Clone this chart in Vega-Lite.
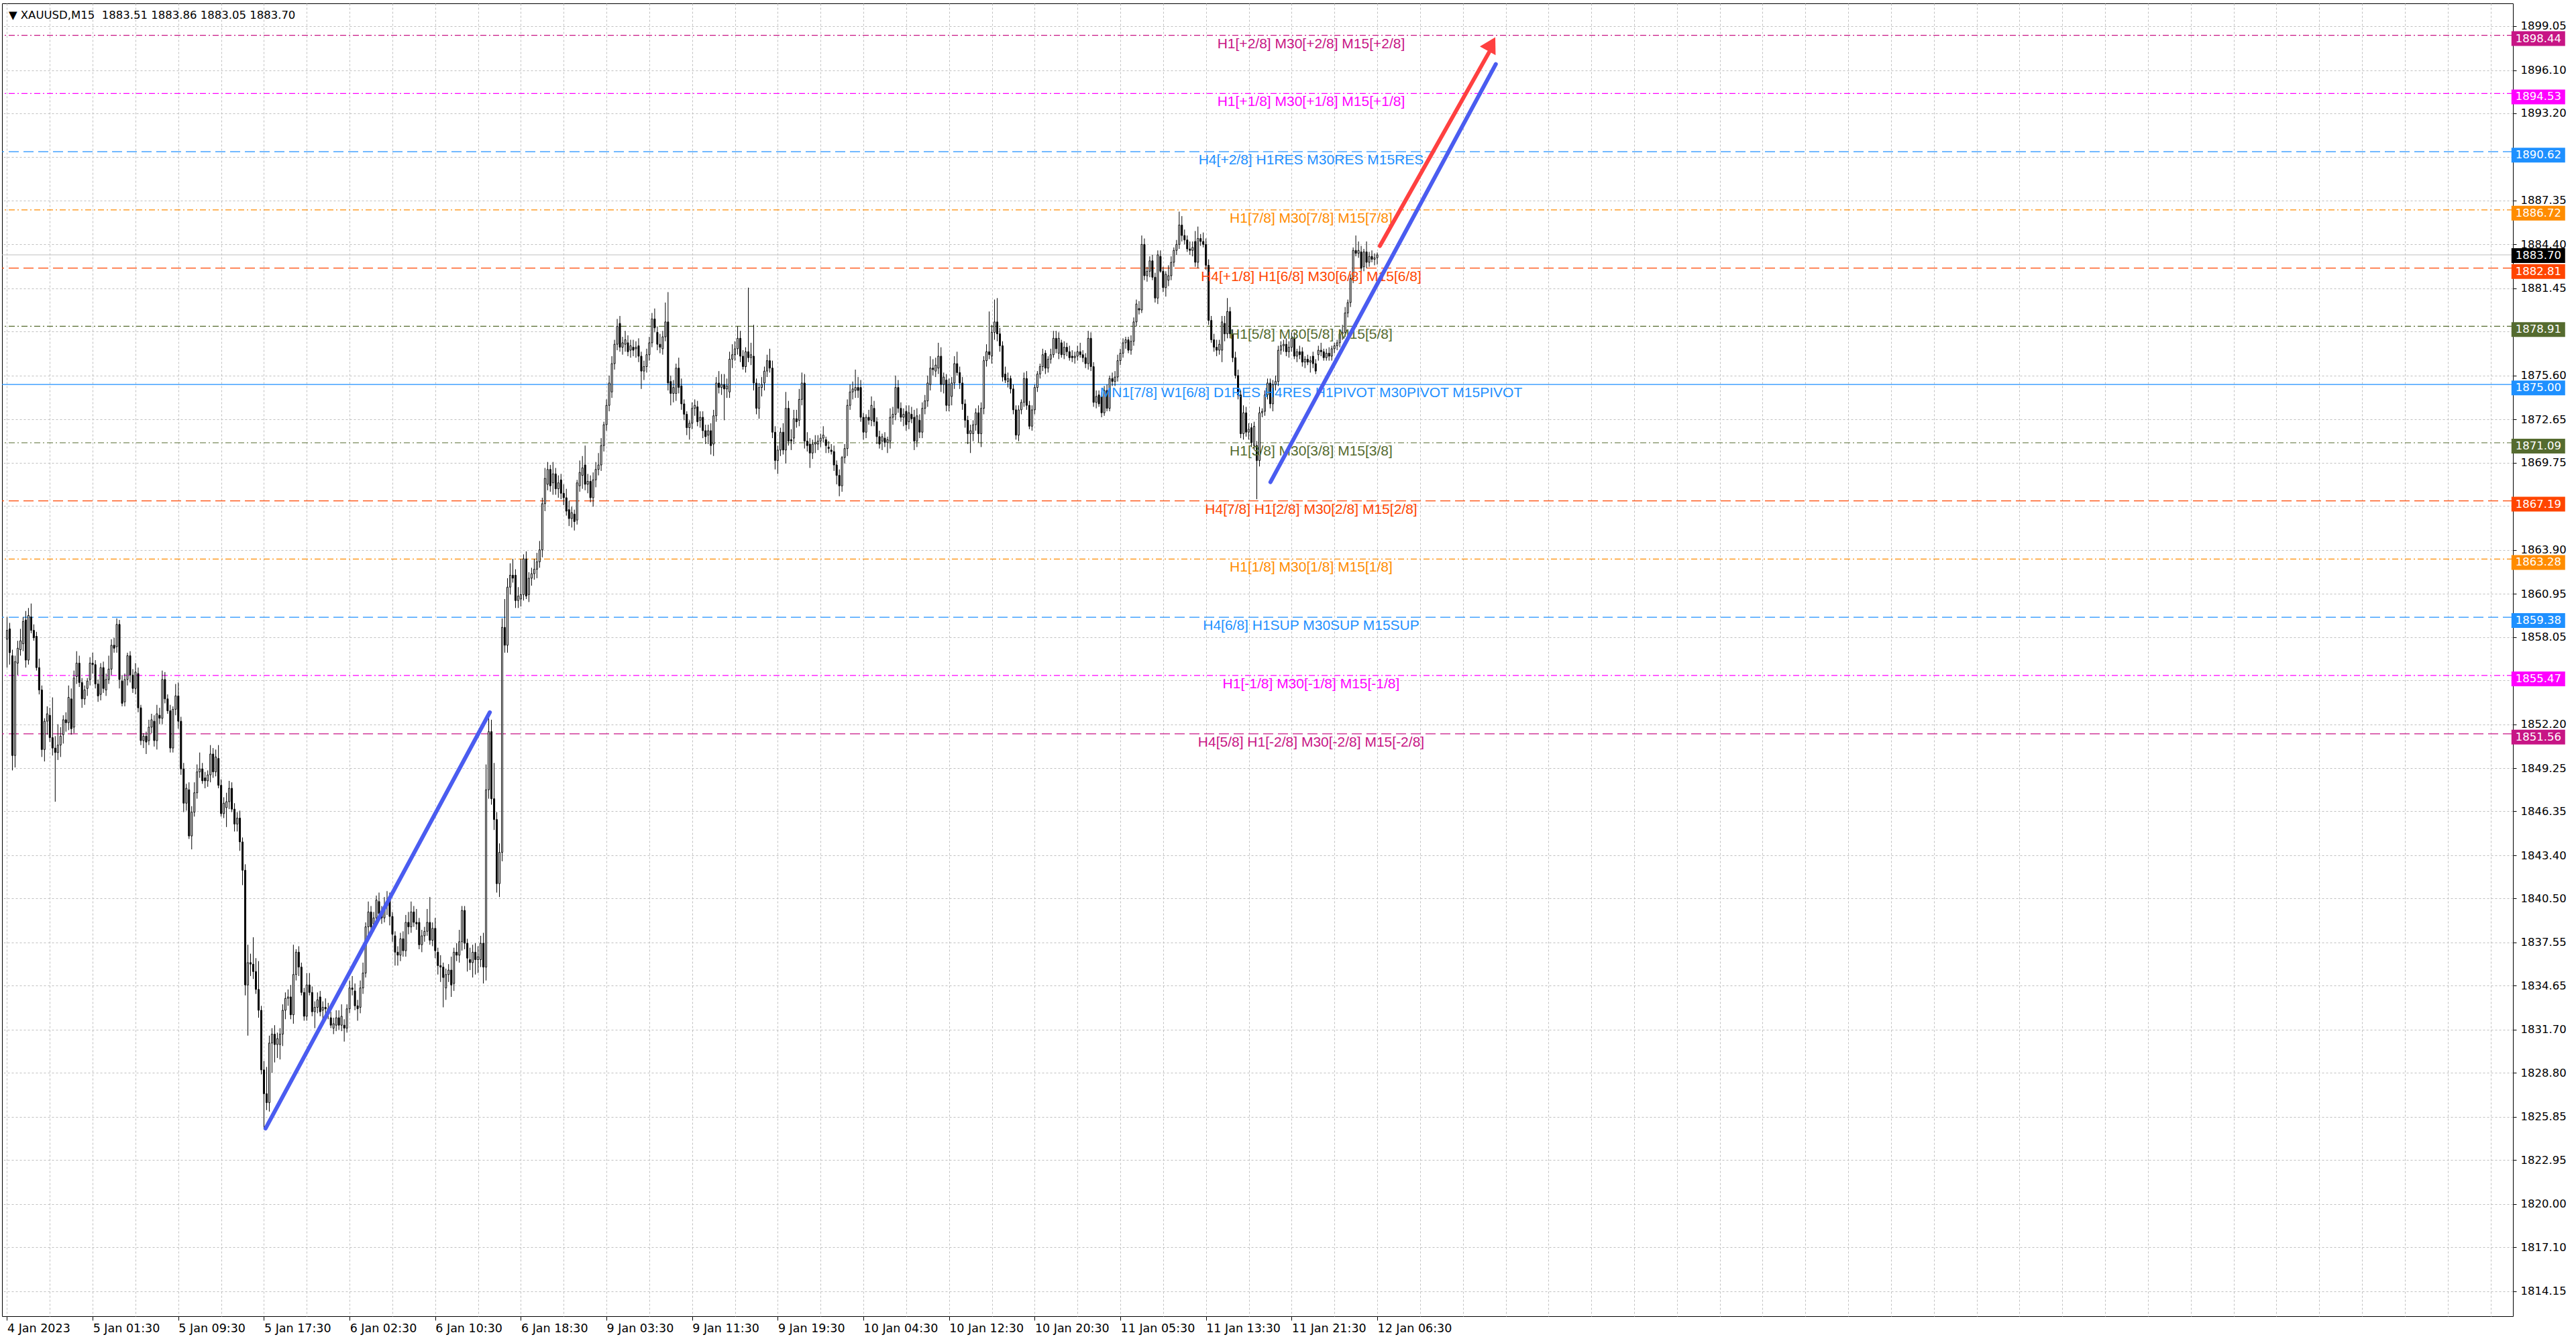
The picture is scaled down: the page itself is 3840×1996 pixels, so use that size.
{
"$schema":"https://vega.github.io/schema/vega-lite/v6.json",
"width":3743,"height":1957,
"autosize":{"type":"none"},
"padding":{"left":3,"top":5,"right":94,"bottom":34},
"background":"white",
"config":{"view":{"stroke":"black","strokeWidth":1}},
"datasets":{
"candles":[
{"i":0,"o":1857.9,"h":1859.4,"l":1856.0,"c":1858.5},{"i":1,"o":1858.6,"h":1859.0,"l":1856.2,"c":1857.0},{"i":2,"o":1856.8,"h":1857.2,"l":1849.1,"c":1850.1},{"i":3,"o":1850.1,"h":1856.8,"l":1849.3,"c":1856.4},{"i":4,"o":1856.3,"h":1857.8,"l":1855.5,"c":1857.3},{"i":5,"o":1857.2,"h":1858.6,"l":1856.8,"c":1857.8},{"i":6,"o":1857.6,"h":1859.4,"l":1857.1,"c":1859.1},{"i":7,"o":1859.2,"h":1859.8,"l":1856.0,"c":1856.5},{"i":8,"o":1856.5,"h":1860.0,"l":1856.2,"c":1859.5},{"i":9,"o":1859.4,"h":1860.3,"l":1858.3,"c":1858.5},
{"i":10,"o":1858.5,"h":1858.9,"l":1857.8,"c":1858.0},{"i":11,"o":1858.1,"h":1858.4,"l":1855.8,"c":1856.0},{"i":12,"o":1856.0,"h":1856.6,"l":1854.2,"c":1854.5},{"i":13,"o":1854.5,"h":1854.8,"l":1850.0,"c":1850.5},{"i":14,"o":1850.5,"h":1852.6,"l":1849.7,"c":1852.4},{"i":15,"o":1852.4,"h":1853.4,"l":1851.5,"c":1852.9},{"i":16,"o":1852.8,"h":1853.3,"l":1851.0,"c":1851.3},{"i":17,"o":1851.3,"h":1854.0,"l":1850.1,"c":1850.6},{"i":18,"o":1850.6,"h":1851.4,"l":1847.0,"c":1850.3},{"i":19,"o":1850.3,"h":1852.2,"l":1849.8,"c":1850.8},
{"i":20,"o":1850.8,"h":1852.0,"l":1850.0,"c":1851.4},{"i":21,"o":1851.5,"h":1852.8,"l":1850.9,"c":1852.5},{"i":22,"o":1852.5,"h":1853.0,"l":1851.7,"c":1852.3},{"i":23,"o":1852.3,"h":1854.8,"l":1851.8,"c":1854.0},{"i":24,"o":1853.9,"h":1854.6,"l":1851.5,"c":1851.9},{"i":25,"o":1852.0,"h":1855.8,"l":1851.6,"c":1855.3},{"i":26,"o":1855.4,"h":1857.1,"l":1854.9,"c":1856.3},{"i":27,"o":1856.3,"h":1856.8,"l":1854.7,"c":1855.0},{"i":28,"o":1855.0,"h":1855.3,"l":1853.3,"c":1853.9},{"i":29,"o":1853.9,"h":1854.8,"l":1853.5,"c":1854.5},
{"i":30,"o":1854.6,"h":1855.3,"l":1854.1,"c":1855.1},{"i":31,"o":1855.2,"h":1856.7,"l":1854.8,"c":1856.3},{"i":32,"o":1856.3,"h":1857.0,"l":1855.6,"c":1856.2},{"i":33,"o":1856.2,"h":1856.5,"l":1854.6,"c":1854.9},{"i":34,"o":1854.9,"h":1855.2,"l":1853.7,"c":1854.1},{"i":35,"o":1854.2,"h":1856.3,"l":1853.8,"c":1856.0},{"i":36,"o":1856.0,"h":1856.4,"l":1854.3,"c":1854.6},{"i":37,"o":1854.5,"h":1855.6,"l":1854.1,"c":1855.2},{"i":38,"o":1855.2,"h":1856.8,"l":1854.9,"c":1855.9},{"i":39,"o":1855.9,"h":1857.9,"l":1855.5,"c":1857.5},
{"i":40,"o":1857.5,"h":1858.0,"l":1857.0,"c":1857.3},{"i":41,"o":1857.4,"h":1859.3,"l":1857.0,"c":1858.9},{"i":42,"o":1858.9,"h":1859.2,"l":1854.6,"c":1855.2},{"i":43,"o":1855.1,"h":1855.5,"l":1853.4,"c":1853.6},{"i":44,"o":1853.7,"h":1855.6,"l":1853.4,"c":1855.2},{"i":45,"o":1855.2,"h":1857.0,"l":1854.8,"c":1856.8},{"i":46,"o":1856.8,"h":1857.1,"l":1855.0,"c":1855.5},{"i":47,"o":1855.5,"h":1855.9,"l":1854.3,"c":1854.6},{"i":48,"o":1854.6,"h":1856.3,"l":1854.2,"c":1855.7},{"i":49,"o":1855.6,"h":1856.0,"l":1853.0,"c":1853.3},
{"i":50,"o":1853.3,"h":1853.5,"l":1850.8,"c":1851.1},{"i":51,"o":1851.1,"h":1851.6,"l":1850.6,"c":1851.4},{"i":52,"o":1851.4,"h":1851.7,"l":1850.2,"c":1851.0},{"i":53,"o":1851.1,"h":1852.5,"l":1850.8,"c":1852.0},{"i":54,"o":1852.0,"h":1852.9,"l":1851.6,"c":1852.5},{"i":55,"o":1852.4,"h":1852.8,"l":1850.7,"c":1851.1},{"i":56,"o":1851.1,"h":1853.5,"l":1850.5,"c":1852.9},{"i":57,"o":1852.8,"h":1853.3,"l":1852.2,"c":1852.6},{"i":58,"o":1852.6,"h":1855.8,"l":1852.2,"c":1855.2},{"i":59,"o":1855.2,"h":1855.7,"l":1853.6,"c":1853.9},
{"i":60,"o":1853.9,"h":1854.2,"l":1852.9,"c":1853.1},{"i":61,"o":1853.1,"h":1853.5,"l":1850.3,"c":1850.6},{"i":62,"o":1850.6,"h":1853.4,"l":1850.3,"c":1853.2},{"i":63,"o":1853.2,"h":1854.9,"l":1852.8,"c":1854.1},{"i":64,"o":1854.1,"h":1855.0,"l":1851.9,"c":1852.4},{"i":65,"o":1852.4,"h":1852.7,"l":1848.8,"c":1849.2},{"i":66,"o":1849.2,"h":1849.6,"l":1846.3,"c":1846.9},{"i":67,"o":1846.9,"h":1848.2,"l":1846.4,"c":1847.9},{"i":68,"o":1847.8,"h":1848.3,"l":1844.5,"c":1844.7},{"i":69,"o":1844.7,"h":1846.7,"l":1843.8,"c":1846.3},
{"i":70,"o":1846.3,"h":1848.3,"l":1846.0,"c":1847.6},{"i":71,"o":1847.6,"h":1849.5,"l":1847.2,"c":1849.0},{"i":72,"o":1849.0,"h":1850.3,"l":1848.6,"c":1849.2},{"i":73,"o":1849.2,"h":1849.6,"l":1848.2,"c":1848.4},{"i":74,"o":1848.6,"h":1849.0,"l":1847.9,"c":1848.4},{"i":75,"o":1848.4,"h":1849.1,"l":1848.0,"c":1848.8},{"i":76,"o":1848.8,"h":1850.8,"l":1848.3,"c":1850.2},{"i":77,"o":1850.2,"h":1850.6,"l":1848.6,"c":1849.0},{"i":78,"o":1849.0,"h":1850.5,"l":1848.7,"c":1850.0},{"i":79,"o":1849.9,"h":1850.8,"l":1847.9,"c":1848.1},
{"i":80,"o":1848.1,"h":1848.5,"l":1846.0,"c":1846.2},{"i":81,"o":1846.2,"h":1847.3,"l":1845.9,"c":1846.9},{"i":82,"o":1846.6,"h":1847.6,"l":1845.3,"c":1847.0},{"i":83,"o":1847.0,"h":1848.4,"l":1846.5,"c":1847.9},{"i":84,"o":1847.9,"h":1848.3,"l":1846.3,"c":1846.5},{"i":85,"o":1846.5,"h":1846.9,"l":1845.0,"c":1845.5},{"i":86,"o":1845.5,"h":1846.3,"l":1845.0,"c":1845.9},{"i":87,"o":1845.9,"h":1846.4,"l":1843.7,"c":1844.3},{"i":88,"o":1844.3,"h":1844.6,"l":1841.4,"c":1842.4},{"i":89,"o":1842.4,"h":1842.8,"l":1834.0,"c":1834.7},
{"i":90,"o":1834.7,"h":1837.4,"l":1831.3,"c":1836.2},{"i":91,"o":1836.2,"h":1836.8,"l":1835.3,"c":1836.1},{"i":92,"o":1836.1,"h":1837.9,"l":1835.1,"c":1835.6},{"i":93,"o":1835.6,"h":1836.5,"l":1834.1,"c":1834.4},{"i":94,"o":1834.4,"h":1836.3,"l":1832.5,"c":1833.0},{"i":95,"o":1833.0,"h":1833.3,"l":1828.7,"c":1829.0},{"i":96,"o":1829.0,"h":1829.6,"l":1825.0,"c":1827.4},{"i":97,"o":1827.4,"h":1829.2,"l":1826.3,"c":1826.8},{"i":98,"o":1826.8,"h":1831.3,"l":1826.2,"c":1830.8},{"i":99,"o":1830.8,"h":1831.8,"l":1828.8,"c":1831.4},
{"i":100,"o":1831.4,"h":1832.0,"l":1829.5,"c":1830.7},{"i":101,"o":1830.7,"h":1831.5,"l":1829.8,"c":1831.1},{"i":102,"o":1830.7,"h":1831.8,"l":1829.7,"c":1831.4},{"i":103,"o":1831.4,"h":1833.4,"l":1830.6,"c":1833.0},{"i":104,"o":1833.0,"h":1834.2,"l":1832.4,"c":1833.8},{"i":105,"o":1833.8,"h":1834.4,"l":1833.3,"c":1833.9},{"i":106,"o":1833.9,"h":1834.7,"l":1832.4,"c":1832.7},{"i":107,"o":1832.7,"h":1837.4,"l":1832.1,"c":1835.4},{"i":108,"o":1835.4,"h":1837.1,"l":1835.0,"c":1836.9},{"i":109,"o":1836.9,"h":1837.3,"l":1835.3,"c":1835.9},
{"i":110,"o":1835.9,"h":1836.2,"l":1834.0,"c":1834.2},{"i":111,"o":1834.2,"h":1834.5,"l":1832.3,"c":1832.6},{"i":112,"o":1832.6,"h":1835.5,"l":1832.3,"c":1834.7},{"i":113,"o":1834.7,"h":1835.5,"l":1834.0,"c":1834.2},{"i":114,"o":1834.2,"h":1834.6,"l":1832.6,"c":1832.9},{"i":115,"o":1832.9,"h":1833.6,"l":1831.8,"c":1833.2},{"i":116,"o":1833.2,"h":1834.2,"l":1832.8,"c":1833.7},{"i":117,"o":1833.9,"h":1834.3,"l":1832.6,"c":1832.9},{"i":118,"o":1833.0,"h":1833.6,"l":1832.3,"c":1833.2},{"i":119,"o":1833.2,"h":1833.8,"l":1832.6,"c":1833.1},
{"i":120,"o":1833.1,"h":1833.5,"l":1832.4,"c":1832.9},{"i":121,"o":1832.5,"h":1832.9,"l":1831.8,"c":1832.0},{"i":122,"o":1831.8,"h":1832.5,"l":1831.4,"c":1832.1},{"i":123,"o":1832.0,"h":1833.0,"l":1831.6,"c":1832.5},{"i":124,"o":1832.5,"h":1833.0,"l":1831.7,"c":1832.0},{"i":125,"o":1832.0,"h":1833.4,"l":1831.6,"c":1832.6},{"i":126,"o":1832.0,"h":1832.4,"l":1830.9,"c":1831.8},{"i":127,"o":1831.8,"h":1833.4,"l":1831.5,"c":1833.1},{"i":128,"o":1833.1,"h":1835.0,"l":1832.8,"c":1834.5},{"i":129,"o":1834.5,"h":1835.3,"l":1834.0,"c":1834.4},
{"i":130,"o":1834.3,"h":1834.8,"l":1833.0,"c":1833.3},{"i":131,"o":1833.3,"h":1833.7,"l":1832.3,"c":1833.1},{"i":132,"o":1833.2,"h":1835.0,"l":1832.8,"c":1834.5},{"i":133,"o":1834.5,"h":1836.2,"l":1834.1,"c":1835.5},{"i":134,"o":1835.5,"h":1838.9,"l":1835.2,"c":1838.6},{"i":135,"o":1838.6,"h":1840.3,"l":1838.0,"c":1839.6},{"i":136,"o":1839.6,"h":1840.0,"l":1838.1,"c":1838.6},{"i":137,"o":1838.8,"h":1839.6,"l":1838.3,"c":1839.2},{"i":138,"o":1839.2,"h":1840.7,"l":1838.8,"c":1840.4},{"i":139,"o":1840.3,"h":1840.9,"l":1839.2,"c":1839.5},
{"i":140,"o":1839.5,"h":1840.0,"l":1838.8,"c":1839.2},{"i":141,"o":1839.2,"h":1840.6,"l":1838.9,"c":1840.0},{"i":142,"o":1840.0,"h":1841.0,"l":1839.4,"c":1840.2},{"i":143,"o":1840.4,"h":1840.9,"l":1838.7,"c":1839.3},{"i":144,"o":1839.3,"h":1839.6,"l":1837.6,"c":1838.1},{"i":145,"o":1838.0,"h":1838.3,"l":1836.0,"c":1836.9},{"i":146,"o":1836.9,"h":1837.3,"l":1836.0,"c":1836.7},{"i":147,"o":1836.7,"h":1838.2,"l":1836.3,"c":1837.8},{"i":148,"o":1837.8,"h":1838.3,"l":1836.6,"c":1837.0},{"i":149,"o":1837.0,"h":1839.4,"l":1836.6,"c":1838.9},
{"i":150,"o":1838.9,"h":1839.6,"l":1838.1,"c":1838.6},{"i":151,"o":1838.6,"h":1840.3,"l":1838.2,"c":1839.6},{"i":152,"o":1839.6,"h":1840.0,"l":1838.6,"c":1838.9},{"i":153,"o":1838.9,"h":1839.8,"l":1838.4,"c":1838.8},{"i":154,"o":1838.9,"h":1839.2,"l":1837.1,"c":1837.4},{"i":155,"o":1837.4,"h":1838.4,"l":1836.9,"c":1838.0},{"i":156,"o":1838.0,"h":1838.6,"l":1837.6,"c":1838.3},{"i":157,"o":1838.3,"h":1839.8,"l":1838.0,"c":1838.9},{"i":158,"o":1838.9,"h":1840.6,"l":1837.4,"c":1837.7},{"i":159,"o":1837.7,"h":1838.9,"l":1837.3,"c":1838.5},
{"i":160,"o":1838.5,"h":1839.2,"l":1836.5,"c":1837.0},{"i":161,"o":1836.9,"h":1837.2,"l":1835.4,"c":1836.0},{"i":162,"o":1836.0,"h":1836.7,"l":1834.9,"c":1835.9},{"i":163,"o":1835.9,"h":1836.2,"l":1833.2,"c":1835.2},{"i":164,"o":1834.5,"h":1835.8,"l":1833.7,"c":1835.4},{"i":165,"o":1835.4,"h":1836.1,"l":1834.9,"c":1835.7},{"i":166,"o":1835.7,"h":1836.6,"l":1833.9,"c":1834.7},{"i":167,"o":1834.8,"h":1837.2,"l":1834.3,"c":1836.9},{"i":168,"o":1836.9,"h":1837.5,"l":1836.3,"c":1836.7},{"i":169,"o":1836.7,"h":1838.4,"l":1836.2,"c":1837.6},
{"i":170,"o":1837.6,"h":1840.0,"l":1837.0,"c":1839.7},{"i":171,"o":1839.7,"h":1840.0,"l":1837.1,"c":1837.5},{"i":172,"o":1837.5,"h":1837.8,"l":1835.6,"c":1836.5},{"i":173,"o":1836.4,"h":1837.2,"l":1835.7,"c":1836.2},{"i":174,"o":1836.2,"h":1837.4,"l":1835.2,"c":1836.9},{"i":175,"o":1836.9,"h":1837.5,"l":1835.4,"c":1836.4},{"i":176,"o":1836.4,"h":1837.3,"l":1835.5,"c":1836.6},{"i":177,"o":1836.4,"h":1838.0,"l":1835.9,"c":1837.5},{"i":178,"o":1837.5,"h":1838.2,"l":1834.8,"c":1835.9},{"i":179,"o":1835.9,"h":1849.5,"l":1835.0,"c":1847.8},
{"i":180,"o":1847.8,"h":1852.6,"l":1847.2,"c":1851.7},{"i":181,"o":1851.7,"h":1852.5,"l":1846.8,"c":1847.2},{"i":182,"o":1847.2,"h":1849.6,"l":1845.1,"c":1845.8},{"i":183,"o":1845.8,"h":1846.3,"l":1840.9,"c":1841.5},{"i":184,"o":1841.5,"h":1844.2,"l":1840.6,"c":1843.6},{"i":185,"o":1843.6,"h":1859.3,"l":1843.0,"c":1858.7},{"i":186,"o":1858.7,"h":1860.6,"l":1857.0,"c":1857.5},{"i":187,"o":1857.5,"h":1862.0,"l":1857.0,"c":1861.4},{"i":188,"o":1861.4,"h":1863.0,"l":1860.9,"c":1862.2},{"i":189,"o":1862.2,"h":1863.3,"l":1861.7,"c":1862.0},
{"i":190,"o":1862.2,"h":1862.6,"l":1860.0,"c":1860.5},{"i":191,"o":1860.5,"h":1861.4,"l":1860.0,"c":1860.8},{"i":192,"o":1860.6,"h":1863.3,"l":1860.1,"c":1860.9},{"i":193,"o":1860.9,"h":1863.6,"l":1860.5,"c":1863.3},{"i":194,"o":1863.3,"h":1863.8,"l":1860.6,"c":1860.8},{"i":195,"o":1860.9,"h":1862.4,"l":1860.4,"c":1862.0},{"i":196,"o":1862.0,"h":1862.7,"l":1861.5,"c":1862.3},{"i":197,"o":1862.3,"h":1863.3,"l":1861.9,"c":1862.6},{"i":198,"o":1862.6,"h":1863.7,"l":1862.0,"c":1863.1},{"i":199,"o":1863.1,"h":1864.5,"l":1862.7,"c":1863.9},
{"i":200,"o":1863.9,"h":1867.4,"l":1863.4,"c":1867.0},{"i":201,"o":1867.0,"h":1869.4,"l":1866.5,"c":1868.7},{"i":202,"o":1868.3,"h":1869.8,"l":1867.9,"c":1869.3},{"i":203,"o":1869.3,"h":1869.6,"l":1867.8,"c":1868.2},{"i":204,"o":1868.4,"h":1869.8,"l":1867.6,"c":1869.0},{"i":205,"o":1869.0,"h":1869.4,"l":1867.6,"c":1868.0},{"i":206,"o":1868.0,"h":1868.9,"l":1867.4,"c":1868.4},{"i":207,"o":1868.6,"h":1869.0,"l":1867.3,"c":1867.7},{"i":208,"o":1867.7,"h":1868.3,"l":1866.9,"c":1867.4},{"i":209,"o":1867.4,"h":1868.0,"l":1866.2,"c":1866.5},
{"i":210,"o":1866.6,"h":1867.2,"l":1865.5,"c":1866.0},{"i":211,"o":1866.0,"h":1866.8,"l":1865.4,"c":1866.4},{"i":212,"o":1866.3,"h":1866.6,"l":1865.2,"c":1865.8},{"i":213,"o":1865.9,"h":1868.6,"l":1865.6,"c":1868.4},{"i":214,"o":1868.2,"h":1869.9,"l":1867.8,"c":1869.1},{"i":215,"o":1868.9,"h":1870.2,"l":1868.0,"c":1869.4},{"i":216,"o":1869.6,"h":1870.9,"l":1867.9,"c":1868.3},{"i":217,"o":1868.3,"h":1869.0,"l":1867.7,"c":1868.5},{"i":218,"o":1868.5,"h":1868.9,"l":1867.1,"c":1867.4},{"i":219,"o":1867.4,"h":1869.1,"l":1866.8,"c":1868.6},
{"i":220,"o":1868.6,"h":1869.8,"l":1868.1,"c":1869.3},{"i":221,"o":1869.3,"h":1870.4,"l":1868.9,"c":1869.6},{"i":222,"o":1869.6,"h":1871.4,"l":1869.2,"c":1870.9},{"i":223,"o":1870.9,"h":1872.5,"l":1870.5,"c":1872.3},{"i":224,"o":1872.3,"h":1874.0,"l":1871.9,"c":1873.6},{"i":225,"o":1873.6,"h":1875.6,"l":1873.2,"c":1875.1},{"i":226,"o":1874.5,"h":1876.9,"l":1874.1,"c":1876.4},{"i":227,"o":1876.4,"h":1878.0,"l":1876.0,"c":1877.7},{"i":228,"o":1877.7,"h":1879.4,"l":1877.3,"c":1878.9},{"i":229,"o":1879.1,"h":1879.6,"l":1877.2,"c":1877.5},
{"i":230,"o":1877.5,"h":1878.2,"l":1877.0,"c":1877.8},{"i":231,"o":1877.7,"h":1878.6,"l":1877.2,"c":1878.0},{"i":232,"o":1877.8,"h":1878.3,"l":1876.9,"c":1877.2},{"i":233,"o":1877.3,"h":1878.0,"l":1876.8,"c":1877.6},{"i":234,"o":1877.5,"h":1878.0,"l":1876.9,"c":1877.3},{"i":235,"o":1877.4,"h":1877.9,"l":1876.8,"c":1877.5},{"i":236,"o":1877.6,"h":1878.1,"l":1876.5,"c":1876.9},{"i":237,"o":1876.9,"h":1877.2,"l":1874.7,"c":1875.9},{"i":238,"o":1875.9,"h":1876.6,"l":1875.3,"c":1876.2},{"i":239,"o":1876.2,"h":1877.4,"l":1875.8,"c":1877.0},
{"i":240,"o":1877.0,"h":1878.2,"l":1876.6,"c":1877.8},{"i":241,"o":1877.8,"h":1879.8,"l":1877.5,"c":1879.4},{"i":242,"o":1879.4,"h":1880.1,"l":1878.5,"c":1878.8},{"i":243,"o":1878.5,"h":1878.9,"l":1877.3,"c":1877.7},{"i":244,"o":1877.7,"h":1878.4,"l":1877.1,"c":1877.5},{"i":245,"o":1877.4,"h":1878.6,"l":1877.0,"c":1878.2},{"i":246,"o":1878.2,"h":1880.5,"l":1877.9,"c":1879.2},{"i":247,"o":1879.2,"h":1881.2,"l":1874.6,"c":1875.1},{"i":248,"o":1875.2,"h":1875.6,"l":1873.6,"c":1874.4},{"i":249,"o":1874.4,"h":1875.3,"l":1873.8,"c":1874.8},
{"i":250,"o":1874.4,"h":1876.4,"l":1873.9,"c":1876.1},{"i":251,"o":1876.1,"h":1876.8,"l":1874.4,"c":1874.8},{"i":252,"o":1874.9,"h":1875.4,"l":1873.3,"c":1873.7},{"i":253,"o":1873.7,"h":1874.0,"l":1872.6,"c":1873.0},{"i":254,"o":1873.0,"h":1873.2,"l":1871.6,"c":1872.1},{"i":255,"o":1872.1,"h":1872.6,"l":1871.3,"c":1872.4},{"i":256,"o":1872.4,"h":1873.8,"l":1872.0,"c":1873.4},{"i":257,"o":1873.4,"h":1874.0,"l":1872.9,"c":1873.6},{"i":258,"o":1873.5,"h":1873.9,"l":1872.2,"c":1872.5},{"i":259,"o":1872.6,"h":1873.2,"l":1872.1,"c":1872.8},
{"i":260,"o":1872.8,"h":1873.2,"l":1871.4,"c":1871.9},{"i":261,"o":1871.9,"h":1872.3,"l":1871.0,"c":1871.5},{"i":262,"o":1871.6,"h":1872.3,"l":1871.0,"c":1871.9},{"i":263,"o":1871.9,"h":1872.4,"l":1870.3,"c":1870.9},{"i":264,"o":1871.0,"h":1873.3,"l":1870.2,"c":1872.9},{"i":265,"o":1872.9,"h":1875.5,"l":1872.5,"c":1875.1},{"i":266,"o":1875.1,"h":1875.9,"l":1874.4,"c":1874.8},{"i":267,"o":1874.8,"h":1875.7,"l":1874.3,"c":1875.0},{"i":268,"o":1875.0,"h":1875.7,"l":1872.6,"c":1874.7},{"i":269,"o":1874.7,"h":1875.4,"l":1874.1,"c":1874.9},
{"i":270,"o":1874.5,"h":1877.2,"l":1874.1,"c":1876.7},{"i":271,"o":1876.7,"h":1877.7,"l":1876.1,"c":1877.0},{"i":272,"o":1877.0,"h":1877.9,"l":1876.6,"c":1877.4},{"i":273,"o":1877.4,"h":1878.9,"l":1877.0,"c":1878.1},{"i":274,"o":1878.1,"h":1878.6,"l":1876.5,"c":1876.9},{"i":275,"o":1876.9,"h":1877.3,"l":1876.0,"c":1876.2},{"i":276,"o":1876.2,"h":1877.5,"l":1875.8,"c":1877.2},{"i":277,"o":1877.2,"h":1881.5,"l":1876.5,"c":1876.8},{"i":278,"o":1876.8,"h":1877.8,"l":1876.3,"c":1877.0},{"i":279,"o":1876.9,"h":1879.0,"l":1874.6,"c":1875.1},
{"i":280,"o":1875.1,"h":1875.4,"l":1873.0,"c":1873.4},{"i":281,"o":1873.4,"h":1875.1,"l":1872.7,"c":1874.8},{"i":282,"o":1874.8,"h":1875.5,"l":1874.2,"c":1875.0},{"i":283,"o":1875.1,"h":1876.2,"l":1874.6,"c":1875.9},{"i":284,"o":1875.9,"h":1877.0,"l":1875.5,"c":1876.6},{"i":285,"o":1876.6,"h":1877.4,"l":1875.8,"c":1876.1},{"i":286,"o":1876.1,"h":1876.6,"l":1871.4,"c":1871.8},{"i":287,"o":1871.8,"h":1872.2,"l":1869.3,"c":1869.9},{"i":288,"o":1869.9,"h":1870.9,"l":1869.0,"c":1870.6},{"i":289,"o":1870.6,"h":1872.1,"l":1870.2,"c":1871.8},
{"i":290,"o":1871.8,"h":1872.4,"l":1870.3,"c":1870.6},{"i":291,"o":1870.6,"h":1874.5,"l":1869.7,"c":1873.4},{"i":292,"o":1873.4,"h":1873.9,"l":1870.9,"c":1871.2},{"i":293,"o":1871.3,"h":1872.0,"l":1870.6,"c":1871.2},{"i":294,"o":1871.4,"h":1873.3,"l":1871.0,"c":1872.7},{"i":295,"o":1872.7,"h":1873.3,"l":1872.1,"c":1872.5},{"i":296,"o":1872.6,"h":1874.7,"l":1872.2,"c":1874.0},{"i":297,"o":1874.0,"h":1875.8,"l":1873.6,"c":1875.1},{"i":298,"o":1875.1,"h":1875.7,"l":1870.7,"c":1871.2},{"i":299,"o":1871.2,"h":1871.8,"l":1870.5,"c":1870.9},
{"i":300,"o":1871.0,"h":1871.4,"l":1869.4,"c":1870.4},{"i":301,"o":1870.4,"h":1871.3,"l":1870.0,"c":1871.0},{"i":302,"o":1871.0,"h":1871.6,"l":1870.4,"c":1871.1},{"i":303,"o":1871.0,"h":1871.6,"l":1870.6,"c":1871.2},{"i":304,"o":1871.2,"h":1871.7,"l":1870.8,"c":1871.4},{"i":305,"o":1871.4,"h":1872.2,"l":1871.1,"c":1871.6},{"i":306,"o":1871.3,"h":1871.5,"l":1870.4,"c":1870.9},{"i":307,"o":1870.8,"h":1871.2,"l":1870.4,"c":1870.7},{"i":308,"o":1870.6,"h":1871.0,"l":1870.3,"c":1870.5},{"i":309,"o":1870.5,"h":1870.9,"l":1869.2,"c":1869.6},
{"i":310,"o":1869.6,"h":1869.9,"l":1868.3,"c":1868.9},{"i":311,"o":1868.9,"h":1869.3,"l":1867.5,"c":1868.2},{"i":312,"o":1868.2,"h":1870.2,"l":1867.8,"c":1870.1},{"i":313,"o":1870.1,"h":1871.0,"l":1869.7,"c":1870.7},{"i":314,"o":1870.7,"h":1874.0,"l":1870.2,"c":1873.6},{"i":315,"o":1873.6,"h":1875.0,"l":1873.3,"c":1874.5},{"i":316,"o":1874.5,"h":1875.2,"l":1874.0,"c":1874.7},{"i":317,"o":1874.6,"h":1876.0,"l":1874.1,"c":1874.8},{"i":318,"o":1874.8,"h":1875.5,"l":1874.1,"c":1874.6},{"i":319,"o":1874.8,"h":1875.3,"l":1872.5,"c":1872.8},
{"i":320,"o":1872.8,"h":1873.1,"l":1871.3,"c":1871.8},{"i":321,"o":1871.8,"h":1873.0,"l":1871.4,"c":1872.8},{"i":322,"o":1872.8,"h":1873.3,"l":1872.3,"c":1872.6},{"i":323,"o":1872.6,"h":1874.2,"l":1872.2,"c":1873.6},{"i":324,"o":1873.4,"h":1873.9,"l":1872.2,"c":1872.5},{"i":325,"o":1872.5,"h":1872.8,"l":1871.0,"c":1871.5},{"i":326,"o":1871.5,"h":1871.9,"l":1870.7,"c":1871.0},{"i":327,"o":1871.2,"h":1871.7,"l":1870.6,"c":1871.5},{"i":328,"o":1871.4,"h":1871.8,"l":1870.8,"c":1871.1},{"i":329,"o":1871.1,"h":1871.5,"l":1870.4,"c":1871.3},
{"i":330,"o":1871.2,"h":1873.4,"l":1870.7,"c":1872.8},{"i":331,"o":1872.8,"h":1873.5,"l":1872.3,"c":1873.0},{"i":332,"o":1873.0,"h":1875.6,"l":1872.6,"c":1874.8},{"i":333,"o":1874.8,"h":1875.3,"l":1873.1,"c":1873.4},{"i":334,"o":1873.4,"h":1873.8,"l":1872.5,"c":1872.8},{"i":335,"o":1872.8,"h":1873.4,"l":1872.2,"c":1873.0},{"i":336,"o":1873.2,"h":1873.6,"l":1871.9,"c":1872.3},{"i":337,"o":1872.5,"h":1873.6,"l":1872.0,"c":1873.1},{"i":338,"o":1873.0,"h":1873.5,"l":1872.4,"c":1872.7},{"i":339,"o":1872.8,"h":1873.3,"l":1870.6,"c":1871.2},
{"i":340,"o":1871.2,"h":1873.4,"l":1870.8,"c":1872.9},{"i":341,"o":1872.6,"h":1873.0,"l":1871.4,"c":1871.8},{"i":342,"o":1871.8,"h":1873.8,"l":1871.4,"c":1873.4},{"i":343,"o":1873.4,"h":1874.3,"l":1873.0,"c":1873.9},{"i":344,"o":1873.9,"h":1875.6,"l":1873.5,"c":1875.1},{"i":345,"o":1875.0,"h":1876.9,"l":1874.6,"c":1876.1},{"i":346,"o":1876.1,"h":1876.7,"l":1875.6,"c":1876.0},{"i":347,"o":1875.9,"h":1876.8,"l":1875.5,"c":1876.3},{"i":348,"o":1876.1,"h":1877.8,"l":1875.7,"c":1876.9},{"i":349,"o":1876.9,"h":1877.5,"l":1874.5,"c":1875.0},
{"i":350,"o":1875.0,"h":1875.8,"l":1874.4,"c":1875.5},{"i":351,"o":1875.3,"h":1875.7,"l":1873.2,"c":1873.6},{"i":352,"o":1873.6,"h":1875.4,"l":1873.2,"c":1875.0},{"i":353,"o":1874.2,"h":1875.5,"l":1873.6,"c":1875.1},{"i":354,"o":1875.1,"h":1876.9,"l":1874.7,"c":1876.4},{"i":355,"o":1876.4,"h":1877.2,"l":1875.6,"c":1875.8},{"i":356,"o":1875.8,"h":1876.2,"l":1874.7,"c":1875.1},{"i":357,"o":1875.1,"h":1875.5,"l":1873.3,"c":1873.7},{"i":358,"o":1873.7,"h":1874.0,"l":1872.1,"c":1872.6},{"i":359,"o":1872.6,"h":1872.9,"l":1871.0,"c":1871.7},
{"i":360,"o":1871.7,"h":1872.3,"l":1870.4,"c":1871.9},{"i":361,"o":1871.7,"h":1872.6,"l":1871.2,"c":1872.3},{"i":362,"o":1872.3,"h":1873.4,"l":1871.9,"c":1873.1},{"i":363,"o":1873.1,"h":1873.6,"l":1871.1,"c":1871.7},{"i":364,"o":1871.7,"h":1873.8,"l":1870.8,"c":1873.4},{"i":365,"o":1873.4,"h":1876.9,"l":1873.0,"c":1876.6},{"i":366,"o":1876.6,"h":1877.7,"l":1876.2,"c":1877.2},{"i":367,"o":1877.2,"h":1879.9,"l":1876.7,"c":1877.0},{"i":368,"o":1876.9,"h":1879.0,"l":1876.4,"c":1878.5},{"i":369,"o":1878.5,"h":1880.7,"l":1878.0,"c":1879.2},
{"i":370,"o":1879.2,"h":1880.8,"l":1877.9,"c":1878.4},{"i":371,"o":1878.4,"h":1878.8,"l":1877.2,"c":1877.6},{"i":372,"o":1877.6,"h":1877.9,"l":1875.2,"c":1875.5},{"i":373,"o":1875.7,"h":1876.2,"l":1875.1,"c":1875.3},{"i":374,"o":1875.2,"h":1875.8,"l":1874.8,"c":1875.4},{"i":375,"o":1875.4,"h":1875.6,"l":1874.4,"c":1874.7},{"i":376,"o":1874.7,"h":1875.0,"l":1873.0,"c":1873.3},{"i":377,"o":1873.3,"h":1873.6,"l":1871.3,"c":1871.6},{"i":378,"o":1871.6,"h":1873.6,"l":1871.2,"c":1873.3},{"i":379,"o":1873.3,"h":1874.0,"l":1873.0,"c":1873.8},
{"i":380,"o":1873.8,"h":1875.8,"l":1873.5,"c":1875.4},{"i":381,"o":1875.4,"h":1875.9,"l":1873.3,"c":1873.6},{"i":382,"o":1873.6,"h":1873.9,"l":1872.0,"c":1872.2},{"i":383,"o":1872.2,"h":1873.6,"l":1871.9,"c":1873.3},{"i":384,"o":1873.3,"h":1875.0,"l":1873.0,"c":1874.8},{"i":385,"o":1874.8,"h":1875.9,"l":1874.5,"c":1875.7},{"i":386,"o":1875.7,"h":1876.4,"l":1875.4,"c":1876.2},{"i":387,"o":1876.2,"h":1877.4,"l":1875.9,"c":1877.0},{"i":388,"o":1877.1,"h":1877.3,"l":1875.7,"c":1876.1},{"i":389,"o":1876.1,"h":1876.9,"l":1875.8,"c":1876.7},
{"i":390,"o":1876.7,"h":1877.4,"l":1876.4,"c":1877.0},{"i":391,"o":1877.0,"h":1878.6,"l":1876.8,"c":1878.1},{"i":392,"o":1878.1,"h":1878.6,"l":1877.1,"c":1877.4},{"i":393,"o":1877.1,"h":1878.5,"l":1876.7,"c":1878.1},{"i":394,"o":1877.8,"h":1878.0,"l":1876.8,"c":1877.0},{"i":395,"o":1877.0,"h":1877.9,"l":1876.7,"c":1877.5},{"i":396,"o":1877.5,"h":1877.8,"l":1876.9,"c":1877.2},{"i":397,"o":1877.2,"h":1877.6,"l":1876.6,"c":1876.8},{"i":398,"o":1876.9,"h":1877.3,"l":1876.5,"c":1876.8},{"i":399,"o":1876.8,"h":1877.2,"l":1876.4,"c":1876.9},
{"i":400,"o":1876.9,"h":1877.6,"l":1876.6,"c":1877.2},{"i":401,"o":1877.2,"h":1877.8,"l":1876.8,"c":1877.0},{"i":402,"o":1877.0,"h":1877.3,"l":1876.5,"c":1876.8},{"i":403,"o":1876.8,"h":1877.1,"l":1876.1,"c":1876.4},{"i":404,"o":1876.4,"h":1878.6,"l":1876.0,"c":1878.1},{"i":405,"o":1878.1,"h":1878.5,"l":1875.9,"c":1876.2},{"i":406,"o":1876.2,"h":1876.5,"l":1873.5,"c":1873.8},{"i":407,"o":1873.8,"h":1874.6,"l":1873.4,"c":1874.2},{"i":408,"o":1874.3,"h":1874.6,"l":1873.5,"c":1873.7},{"i":409,"o":1874.2,"h":1874.5,"l":1872.8,"c":1873.1},
{"i":410,"o":1873.1,"h":1874.9,"l":1872.9,"c":1874.6},{"i":411,"o":1874.6,"h":1875.0,"l":1873.2,"c":1873.4},{"i":412,"o":1873.4,"h":1875.6,"l":1873.2,"c":1875.4},{"i":413,"o":1875.4,"h":1875.8,"l":1874.9,"c":1875.2},{"i":414,"o":1875.2,"h":1875.9,"l":1874.9,"c":1875.5},{"i":415,"o":1875.5,"h":1877.0,"l":1875.2,"c":1876.6},{"i":416,"o":1876.6,"h":1877.4,"l":1876.3,"c":1877.1},{"i":417,"o":1877.1,"h":1878.1,"l":1876.8,"c":1877.8},{"i":418,"o":1877.8,"h":1878.2,"l":1877.4,"c":1878.0},{"i":419,"o":1878.0,"h":1878.2,"l":1877.1,"c":1877.3},
{"i":420,"o":1877.3,"h":1878.3,"l":1877.0,"c":1877.9},{"i":421,"o":1877.9,"h":1879.5,"l":1877.6,"c":1879.2},{"i":422,"o":1879.2,"h":1880.7,"l":1878.9,"c":1880.4},{"i":423,"o":1880.1,"h":1880.6,"l":1879.7,"c":1880.0},{"i":424,"o":1880.0,"h":1885.0,"l":1879.8,"c":1884.4},{"i":425,"o":1884.4,"h":1884.8,"l":1882.0,"c":1882.3},{"i":426,"o":1882.3,"h":1882.9,"l":1881.9,"c":1882.6},{"i":427,"o":1882.6,"h":1883.6,"l":1882.2,"c":1883.3},{"i":428,"o":1883.3,"h":1883.7,"l":1882.0,"c":1882.2},{"i":429,"o":1882.2,"h":1882.5,"l":1880.5,"c":1880.8},
{"i":430,"o":1880.8,"h":1884.0,"l":1880.4,"c":1883.7},{"i":431,"o":1883.6,"h":1884.0,"l":1882.5,"c":1882.6},{"i":432,"o":1882.6,"h":1882.9,"l":1881.2,"c":1881.5},{"i":433,"o":1881.5,"h":1882.6,"l":1880.9,"c":1882.4},{"i":434,"o":1882.0,"h":1883.0,"l":1881.6,"c":1882.3},{"i":435,"o":1882.3,"h":1883.6,"l":1882.0,"c":1883.2},{"i":436,"o":1883.2,"h":1884.2,"l":1882.9,"c":1884.0},{"i":437,"o":1884.0,"h":1884.7,"l":1883.7,"c":1884.4},{"i":438,"o":1884.4,"h":1886.6,"l":1884.1,"c":1885.7},{"i":439,"o":1885.7,"h":1886.3,"l":1884.6,"c":1885.0},
{"i":440,"o":1885.0,"h":1885.4,"l":1884.4,"c":1884.7},{"i":441,"o":1884.7,"h":1885.0,"l":1883.9,"c":1884.1},{"i":442,"o":1884.1,"h":1884.6,"l":1883.7,"c":1884.0},{"i":443,"o":1884.0,"h":1884.6,"l":1883.6,"c":1884.2},{"i":444,"o":1884.6,"h":1885.3,"l":1882.9,"c":1883.2},{"i":445,"o":1883.2,"h":1885.6,"l":1882.8,"c":1884.8},{"i":446,"o":1884.8,"h":1885.1,"l":1884.3,"c":1884.6},{"i":447,"o":1884.6,"h":1885.2,"l":1884.2,"c":1884.4},{"i":448,"o":1884.4,"h":1884.8,"l":1882.7,"c":1883.0},{"i":449,"o":1883.0,"h":1883.4,"l":1879.0,"c":1879.3},
{"i":450,"o":1879.3,"h":1879.6,"l":1877.8,"c":1878.0},{"i":451,"o":1878.0,"h":1878.4,"l":1877.2,"c":1877.5},{"i":452,"o":1877.5,"h":1878.0,"l":1876.9,"c":1877.3},{"i":453,"o":1877.3,"h":1878.0,"l":1877.0,"c":1877.7},{"i":454,"o":1877.3,"h":1879.6,"l":1876.5,"c":1879.2},{"i":455,"o":1879.1,"h":1879.6,"l":1877.9,"c":1878.4},{"i":456,"o":1878.4,"h":1880.8,"l":1878.1,"c":1879.9},{"i":457,"o":1879.9,"h":1880.2,"l":1878.1,"c":1878.4},{"i":458,"o":1878.4,"h":1878.7,"l":1876.5,"c":1876.8},{"i":459,"o":1876.8,"h":1877.2,"l":1875.4,"c":1875.6},
{"i":460,"o":1875.6,"h":1876.0,"l":1874.0,"c":1874.3},{"i":461,"o":1874.3,"h":1874.6,"l":1871.4,"c":1871.7},{"i":462,"o":1871.7,"h":1873.6,"l":1871.3,"c":1873.1},{"i":463,"o":1873.1,"h":1873.5,"l":1871.5,"c":1871.8},{"i":464,"o":1871.8,"h":1872.4,"l":1871.3,"c":1872.0},{"i":465,"o":1872.1,"h":1872.4,"l":1870.8,"c":1871.1},{"i":466,"o":1870.9,"h":1872.5,"l":1870.6,"c":1872.2},{"i":467,"o":1870.9,"h":1871.2,"l":1867.3,"c":1869.9},{"i":468,"o":1869.9,"h":1873.5,"l":1869.5,"c":1873.1},{"i":469,"o":1873.1,"h":1873.4,"l":1872.8,"c":1873.2},
{"i":470,"o":1873.2,"h":1874.6,"l":1872.9,"c":1874.3},{"i":471,"o":1874.3,"h":1875.4,"l":1874.0,"c":1875.1},{"i":472,"o":1875.1,"h":1875.4,"l":1873.4,"c":1873.7},{"i":473,"o":1873.7,"h":1875.3,"l":1873.2,"c":1875.0},{"i":474,"o":1875.0,"h":1875.6,"l":1874.6,"c":1875.2},{"i":475,"o":1875.2,"h":1877.6,"l":1874.9,"c":1877.3},{"i":476,"o":1877.3,"h":1877.9,"l":1877.0,"c":1877.6},{"i":477,"o":1877.6,"h":1878.0,"l":1877.2,"c":1877.7},{"i":478,"o":1877.7,"h":1878.1,"l":1876.9,"c":1877.2},{"i":479,"o":1877.2,"h":1877.9,"l":1876.8,"c":1877.5},
{"i":480,"o":1877.5,"h":1878.5,"l":1877.2,"c":1878.1},{"i":481,"o":1878.1,"h":1878.5,"l":1876.7,"c":1876.9},{"i":482,"o":1876.9,"h":1877.4,"l":1876.5,"c":1877.2},{"i":483,"o":1877.2,"h":1877.6,"l":1876.7,"c":1877.0},{"i":484,"o":1877.2,"h":1877.5,"l":1876.2,"c":1876.5},{"i":485,"o":1876.5,"h":1876.9,"l":1876.1,"c":1876.7},{"i":486,"o":1876.7,"h":1877.0,"l":1876.3,"c":1876.5},{"i":487,"o":1876.5,"h":1876.9,"l":1875.8,"c":1876.6},{"i":488,"o":1876.9,"h":1877.2,"l":1876.1,"c":1876.4},{"i":489,"o":1876.4,"h":1876.7,"l":1875.7,"c":1875.9},
{"i":490,"o":1877.0,"h":1877.6,"l":1876.6,"c":1877.3},{"i":491,"o":1877.3,"h":1877.8,"l":1876.9,"c":1877.2},{"i":492,"o":1877.2,"h":1877.4,"l":1876.6,"c":1876.8},{"i":493,"o":1876.8,"h":1877.4,"l":1876.6,"c":1877.1},{"i":494,"o":1877.1,"h":1877.5,"l":1876.6,"c":1876.9},{"i":495,"o":1876.9,"h":1877.6,"l":1876.6,"c":1877.4},{"i":496,"o":1877.4,"h":1877.8,"l":1877.1,"c":1877.6},{"i":497,"o":1877.6,"h":1878.0,"l":1877.3,"c":1877.8},{"i":498,"o":1877.8,"h":1878.6,"l":1877.5,"c":1878.4},{"i":499,"o":1878.4,"h":1879.0,"l":1878.0,"c":1878.5},
{"i":500,"o":1878.5,"h":1880.2,"l":1878.2,"c":1879.8},{"i":501,"o":1879.8,"h":1880.7,"l":1879.5,"c":1880.5},{"i":502,"o":1880.5,"h":1882.4,"l":1880.2,"c":1882.1},{"i":503,"o":1882.1,"h":1884.2,"l":1881.8,"c":1884.0},{"i":504,"o":1884.0,"h":1885.0,"l":1883.6,"c":1883.8},{"i":505,"o":1883.8,"h":1884.6,"l":1883.5,"c":1884.0},{"i":506,"o":1883.9,"h":1884.3,"l":1882.5,"c":1882.8},{"i":507,"o":1882.9,"h":1884.1,"l":1882.6,"c":1883.9},{"i":508,"o":1883.9,"h":1884.6,"l":1882.8,"c":1883.2},{"i":509,"o":1883.2,"h":1883.9,"l":1882.9,"c":1883.6},
{"i":510,"o":1883.6,"h":1884.0,"l":1883.2,"c":1883.4},{"i":511,"o":1883.4,"h":1883.8,"l":1883.0,"c":1883.5},{"i":512,"o":1883.51,"h":1883.86,"l":1883.05,"c":1883.70}
],
"levels":[
{"p":1898.44,"lab":"H1[+2/8] M30[+2/8] M15[+2/8]","g":"p28","d":"dd"},
{"p":1894.53,"lab":"H1[+1/8] M30[+1/8] M15[+1/8]","g":"p18","d":"dd"},
{"p":1890.62,"lab":"H4[+2/8] H1RES M30RES M15RES","g":"rs","d":"da"},
{"p":1886.72,"lab":"H1[7/8] M30[7/8] M15[7/8]","g":"o7","d":"dd"},
{"p":1882.81,"lab":"H4[+1/8] H1[6/8] M30[6/8] M15[6/8]","g":"o6","d":"da"},
{"p":1878.91,"lab":"H1[5/8] M30[5/8] M15[5/8]","g":"o5","d":"dd"},
{"p":1875.00,"lab":"MN1[7/8] W1[6/8] D1RES H4RES H1PIVOT M30PIVOT M15PIVOT","g":"pv","d":"so"},
{"p":1871.09,"lab":"H1[3/8] M30[3/8] M15[3/8]","g":"o5","d":"dd"},
{"p":1867.19,"lab":"H4[7/8] H1[2/8] M30[2/8] M15[2/8]","g":"o6","d":"da"},
{"p":1863.28,"lab":"H1[1/8] M30[1/8] M15[1/8]","g":"o7","d":"dd"},
{"p":1859.38,"lab":"H4[6/8] H1SUP M30SUP M15SUP","g":"rs","d":"da"},
{"p":1855.47,"lab":"H1[-1/8] M30[-1/8] M15[-1/8]","g":"p18","d":"dd"},
{"p":1851.56,"lab":"H4[5/8] H1[-2/8] M30[-2/8] M15[-2/8]","g":"p28","d":"da"}
],
"cur":[{"p":1883.70}],
"trend":[
{"t":"b1","i":96.6,"p":1825.07},{"t":"b1","i":180.4,"p":1853.0},
{"t":"b2","i":472.1,"p":1868.45},{"t":"b2","i":556.3,"p":1896.5},
{"t":"r","i":513.0,"p":1884.3},{"t":"r","i":553.8,"p":1897.3}
],
"head":[{"i":554.7,"p":1897.85}],
"hdr":[{"t":"▼ XAUUSD,M15\u00a0\u00a01883.51 1883.86 1883.05 1883.70"}]
},
"layer":[
{"data":{"name":"cur"},"mark":{"type":"rule","color":"#C0C0C0","strokeWidth":1},
 "encoding":{"y":{"field":"p","type":"quantitative","scale":{"domain":[1812.47,1900.58],"nice":false,"zero":false}}}},
{"data":{"name":"levels"},"mark":{"type":"rule"},
 "encoding":{"y":{"field":"p","type":"quantitative","scale":{"domain":[1812.47,1900.58],"nice":false,"zero":false}},
  "color":{"field":"g","type":"nominal","scale":{"domain":["p28","p18","rs","o7","o6","o5","pv"],"range":["#C71585","#FF00FF","#1E90FF","#FF8C00","#FF4500","#556B2F","#1E90FF"]},"legend":null},
  "strokeDash":{"field":"d","type":"nominal","scale":{"domain":["da","dd","so"],"range":[[15,7],[9,4,2,4],[1,0]]},"legend":null},
  "strokeWidth":{"field":"d","type":"nominal","scale":{"domain":["da","dd","so"],"range":[1.2,1.2,2.2]},"legend":null}}},
{"data":{"name":"candles"},"mark":{"type":"rule","color":"black","strokeWidth":1},
 "encoding":{
  "x":{"field":"i","type":"quantitative","scale":{"domain":[-0.625,935.125],"nice":false,"zero":false},
   "axis":{"orient":"bottom","title":null,"values":[0,16,32,48,64,80,96,112,128,144,160,176,192,208,224,240,256,272,288,304,320,336,352,368,384,400,416,432,448,464,480,496,512,528,544,560,576,592,608,624,640,656,672,688,704,720,736,752,768,784,800,816,832,848,864,880,896,912,928],
    "labelExpr":"datum.value % 32 === 0 && datum.value <= 512 ? ['4 Jan 2023','5 Jan 01:30','5 Jan 09:30','5 Jan 17:30','6 Jan 02:30','6 Jan 10:30','6 Jan 18:30','9 Jan 03:30','9 Jan 11:30','9 Jan 19:30','10 Jan 04:30','10 Jan 12:30','10 Jan 20:30','11 Jan 05:30','11 Jan 13:30','11 Jan 21:30','12 Jan 06:30'][datum.value / 32] : ''",
    "grid":true,"gridColor":"#C0C0C0","gridDash":[3,3],"gridWidth":1,"domain":false,
    "ticks":true,"tickSize":6,"tickColor":"black","tickOpacity":{"condition":{"test":"datum.value % 32 === 0 && datum.value <= 512","value":1},"value":0},
    "labelAlign":"left","labelBaseline":"top","labelPadding":3,"labelFont":"DejaVu Sans","labelFontSize":17.5,"labelColor":"black","labelOverlap":false,"labelFlush":false,"labelBound":false}},
  "y":{"field":"l","type":"quantitative","scale":{"domain":[1812.47,1900.58],"nice":false,"zero":false},
   "axis":{"orient":"right","title":null,"values":[1899.05,1896.10,1893.20,1890.25,1887.35,1884.40,1881.45,1878.55,1875.60,1872.65,1869.75,1866.85,1863.90,1860.95,1858.05,1855.15,1852.20,1849.25,1846.35,1843.40,1840.50,1837.55,1834.65,1831.70,1828.80,1825.85,1822.95,1820.00,1817.10,1814.15],
    "labelExpr":"indexof([1890.25,1878.55,1866.85,1855.15], datum.value) >= 0 ? '' : format(datum.value, '.2f')",
    "grid":true,"gridColor":"#C0C0C0","gridDash":[3,3],"gridWidth":1,"domain":false,
    "ticks":true,"tickSize":5,"tickColor":"black","labelPadding":6,"labelAlign":"left","labelBaseline":"middle",
    "labelFont":"DejaVu Sans","labelFontSize":16.5,"labelColor":"black","labelOverlap":false,"labelFlush":false,"labelBound":false}},
  "y2":{"field":"h"}}},
{"data":{"name":"candles"},"mark":{"type":"bar","width":2,"stroke":"black","strokeWidth":1,"orient":"vertical"},
 "encoding":{"x":{"field":"i","type":"quantitative","scale":{"domain":[-0.625,935.125],"nice":false,"zero":false}},
  "y":{"field":"o","type":"quantitative","scale":{"domain":[1812.47,1900.58],"nice":false,"zero":false}},
  "y2":{"field":"c"},
  "fill":{"condition":{"test":"datum.c >= datum.o","value":"white"},"value":"black"}}},
{"data":{"name":"levels"},"mark":{"type":"text","font":"Liberation Sans","fontSize":21,"align":"center","baseline":"top","dy":2},
 "encoding":{"x":{"datum":487.3,"type":"quantitative","scale":{"domain":[-0.625,935.125],"nice":false,"zero":false}},
  "y":{"field":"p","type":"quantitative","scale":{"domain":[1812.47,1900.58],"nice":false,"zero":false}},
  "text":{"field":"lab"},
  "color":{"field":"g","type":"nominal","scale":{"domain":["p28","p18","rs","o7","o6","o5","pv"],"range":["#C71585","#FF00FF","#1E90FF","#FF8C00","#FF4500","#556B2F","#1E90FF"]},"legend":null}}},
{"data":{"name":"trend"},"transform":[{"filter":"datum.t !== 'r'"}],"mark":{"type":"line","strokeWidth":6,"strokeCap":"round","color":"#4A5CF0"},
 "encoding":{"x":{"field":"i","type":"quantitative","scale":{"domain":[-0.625,935.125],"nice":false,"zero":false}},
  "y":{"field":"p","type":"quantitative","scale":{"domain":[1812.47,1900.58],"nice":false,"zero":false}},
  "detail":{"field":"t"}}},
{"data":{"name":"trend"},"transform":[{"filter":"datum.t === 'r'"}],"mark":{"type":"line","strokeWidth":6,"strokeCap":"round","color":"#FF4040"},
 "encoding":{"x":{"field":"i","type":"quantitative","scale":{"domain":[-0.625,935.125],"nice":false,"zero":false}},
  "y":{"field":"p","type":"quantitative","scale":{"domain":[1812.47,1900.58],"nice":false,"zero":false}}}},
{"data":{"name":"head"},"mark":{"type":"point","shape":"triangle-up","filled":true,"size":720,"angle":29,"color":"#FF4040","opacity":1},
 "encoding":{"x":{"field":"i","type":"quantitative","scale":{"domain":[-0.625,935.125],"nice":false,"zero":false}},
  "y":{"field":"p","type":"quantitative","scale":{"domain":[1812.47,1900.58],"nice":false,"zero":false}}}},
{"data":{"name":"levels"},"mark":{"type":"tick","orient":"horizontal","size":80,"thickness":22,"yOffset":5,"opacity":1},
 "encoding":{"x":{"datum":945.85,"type":"quantitative","scale":{"domain":[-0.625,935.125],"nice":false,"zero":false}},
  "y":{"field":"p","type":"quantitative","scale":{"domain":[1812.47,1900.58],"nice":false,"zero":false}},
  "color":{"field":"g","type":"nominal","scale":{"domain":["p28","p18","rs","o7","o6","o5","pv"],"range":["#C71585","#FF00FF","#1E90FF","#FF8C00","#FF4500","#556B2F","#1E90FF"]},"legend":null}}},
{"data":{"name":"levels"},"mark":{"type":"text","font":"DejaVu Sans","fontSize":16.5,"color":"white","align":"center","baseline":"middle","dy":5},
 "encoding":{"x":{"datum":945.85,"type":"quantitative","scale":{"domain":[-0.625,935.125],"nice":false,"zero":false}},
  "y":{"field":"p","type":"quantitative","scale":{"domain":[1812.47,1900.58],"nice":false,"zero":false}},
  "text":{"field":"p","type":"quantitative","format":".2f"}}},
{"data":{"name":"cur"},"mark":{"type":"tick","orient":"horizontal","size":80,"thickness":22,"yOffset":1,"opacity":1,"color":"black"},
 "encoding":{"x":{"datum":945.85,"type":"quantitative","scale":{"domain":[-0.625,935.125],"nice":false,"zero":false}},
  "y":{"field":"p","type":"quantitative","scale":{"domain":[1812.47,1900.58],"nice":false,"zero":false}}}},
{"data":{"name":"cur"},"mark":{"type":"text","font":"DejaVu Sans","fontSize":16.5,"color":"white","align":"center","baseline":"middle","dy":1},
 "encoding":{"x":{"datum":945.85,"type":"quantitative","scale":{"domain":[-0.625,935.125],"nice":false,"zero":false}},
  "y":{"field":"p","type":"quantitative","scale":{"domain":[1812.47,1900.58],"nice":false,"zero":false}},
  "text":{"field":"p","type":"quantitative","format":".2f"}}},
{"data":{"name":"hdr"},"mark":{"type":"text","font":"DejaVu Sans","fontSize":16.5,"color":"black","align":"left","baseline":"middle"},
 "encoding":{"x":{"datum":0.6,"type":"quantitative","scale":{"domain":[-0.625,935.125],"nice":false,"zero":false}},
  "y":{"datum":1899.77,"type":"quantitative","scale":{"domain":[1812.47,1900.58],"nice":false,"zero":false}},
  "text":{"field":"t"}}}
]
}
